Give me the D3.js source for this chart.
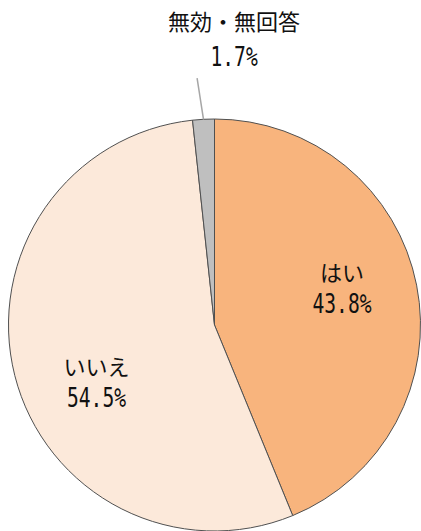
<!DOCTYPE html>
<html><head><meta charset="utf-8">
<script src="https://cdn.jsdelivr.net/npm/d3@7"></script>
<style>html,body{margin:0;padding:0;background:#fff;}svg{display:block;}</style>
</head><body>
<svg id="c" width="421" height="531"></svg>
<script>
const categories = ["はい", "いいえ", "無効・無回答"];
const values = [43.8, 54.5, 1.7];
const valueLabels = ["43.8%", "54.5%", "1.7%"];
const colors = ["#F8B47D", "#FCE9DA", "#BFBFBF"];

const W = 421, H = 531;
const cx = 214.5, cy = 325, r = 206;
const svg = d3.select("#c");
const g = svg.append("g").attr("transform", `translate(${cx},${cy})`);

const pie = d3.pie().sort(null).value(d => d)(values);
const arc = d3.arc().innerRadius(0).outerRadius(r);

g.selectAll("path.slice").data(pie).join("path")
  .attr("class", "slice")
  .attr("d", arc)
  .attr("fill", (d, i) => colors[i])
  .attr("stroke", "#505050")
  .attr("stroke-width", 1);

const jpFont = "'Noto Sans CJK JP', 'Noto Sans', sans-serif";
const numFont = "'DejaVu Sans Mono', monospace";
const numW = s => s.length * 11.8;

function addLabel(x, y1, y2, i) {
  g.append("text").attr("x", x).attr("y", y1).attr("text-anchor", "middle")
    .attr("font-family", jpFont).attr("font-size", 22).attr("fill", "#111")
    .text(categories[i]);
  g.append("text").attr("x", x).attr("y", y2).attr("text-anchor", "middle")
    .attr("font-family", numFont).attr("font-size", 26).attr("fill", "#111")
    .attr("textLength", numW(valueLabels[i])).attr("lengthAdjust", "spacingAndGlyphs")
    .text(valueLabels[i]);
}

// inside labels: near centroid at radius 131, nudged
const inner = d3.arc().innerRadius(131).outerRadius(131);
const nudges = [[-1, -12], [9, 25]];
[0, 1].forEach(i => {
  const [x, y] = inner.centroid(pie[i]);
  const px = x + nudges[i][0], py = y + nudges[i][1];
  addLabel(px, py - 7, py + 25, i);
});

// outside label for small slice with leader line
const mid = (pie[2].startAngle + pie[2].endAngle) / 2;
const a0 = d3.arc().innerRadius(r).outerRadius(r).centroid(pie[2]);
const lead = 247.5, la = mid - 0.017;
const p1 = [Math.sin(la) * lead, -Math.cos(la) * lead];
g.append("line").attr("x1", a0[0]).attr("y1", a0[1]).attr("x2", p1[0]).attr("y2", p1[1])
  .attr("stroke", "#A6A6A6").attr("stroke-width", 1.5);
addLabel(p1[0] + 37, p1[1] - 48, p1[1] - 12, 2);
</script>
</body></html>
